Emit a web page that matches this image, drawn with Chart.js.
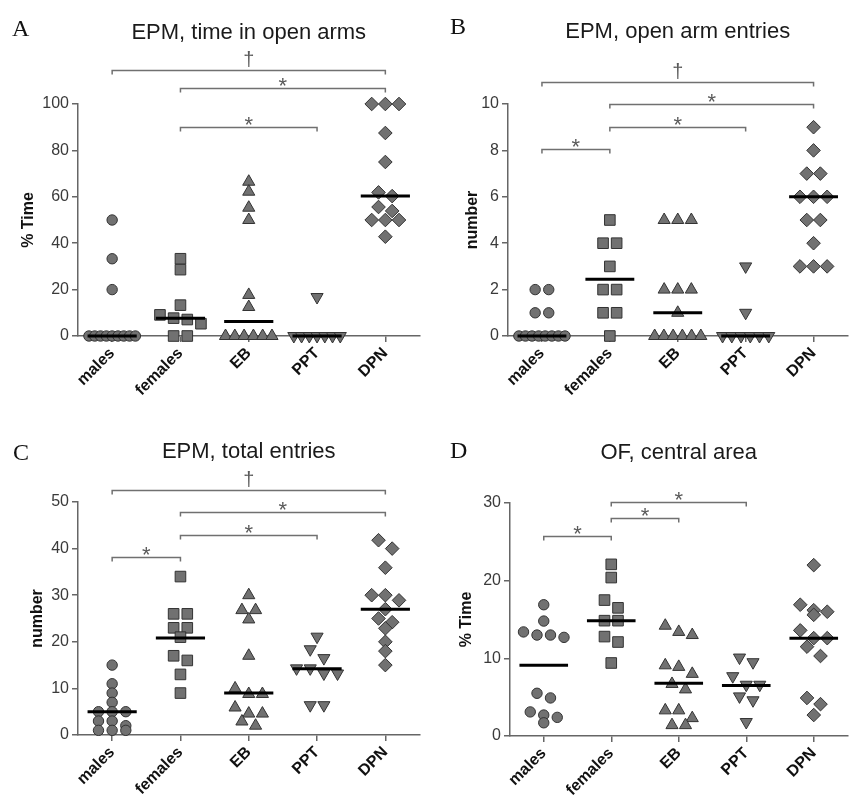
<!DOCTYPE html>
<html>
<head>
<meta charset="utf-8">
<script src="https://cdn.jsdelivr.net/npm/chart.js@4.4.1/dist/chart.umd.min.js"></script>
<style>
  body { margin: 0; background: #fff; }
  #wrap { position: relative; width: 856px; height: 806px; }
  canvas { position: absolute; }
</style>
</head>
<body>
<div id="wrap">
  <canvas id="chartA" width="428" height="400" style="left:0;top:0"></canvas>
  <canvas id="chartB" width="426" height="400" style="left:430px;top:0"></canvas>
  <canvas id="chartC" width="428" height="406" style="left:0;top:400px"></canvas>
  <canvas id="chartD" width="426" height="406" style="left:430px;top:400px"></canvas>
</div>
<script>
const groups = ['males', 'females', 'EB', 'PPT', 'DPN'];

// A - EPM, time in open arms (% time)
const openTimeMales = [50, 33.3, 20, 0, 0, 0, 0, 0, 0, 0, 0, 0];
const openTimeFemales = [33.3, 28.6, 13.3, 9.1, 7.7, 7.1, 5.3, 0, 0];
const openTimeEB = [66.5, 62.2, 55.3, 50, 17.7, 12.5, 0, 0, 0, 0, 0, 0];
const openTimePPT = [16.8, 0, 0, 0, 0, 0, 0, 0];
const openTimeDPN = [100, 100, 100, 87.5, 75, 61.9, 60.3, 55.6, 53.9, 50, 50, 50, 42.8];
const openTimeMedians = [0, 7.7, 6.25, 0, 60.3];
const openTimeBrackets = [[0, 4, 114.7, '\u2020'], [1, 4, 106.9, '*'], [1, 3, 90.1, '*']];

// B - EPM, open arm entries (number)
const openEntriesMales = [2, 2, 1, 1, 0, 0, 0, 0, 0, 0, 0, 0];
const openEntriesFemales = [5, 4, 4, 3, 2, 2, 1, 1, 0];
const openEntriesEB = [5, 5, 5, 2, 2, 2, 1, 0, 0, 0, 0, 0, 0];
const openEntriesPPT = [3, 1, 0, 0, 0, 0, 0, 0];
const openEntriesDPN = [9, 8, 7, 7, 6, 6, 6, 5, 5, 4, 3, 3, 3];
const openEntriesMedians = [0, 2.45, 1, 0, 6];
const openEntriesBrackets = [[0, 4, 10.95, '\u2020'], [1, 4, 10, '*'], [1, 3, 9, '*'], [0, 1, 8.07, '*']];

// C - EPM, total entries (number)
const totalMales = [15, 11, 9, 7, 5, 5, 5, 3, 3, 2, 1, 1, 1];
const totalFemales = [34, 26, 26, 23, 23, 21, 17, 16, 13, 9];
const totalEB = [30, 26.8, 26.8, 24.8, 17, 10, 8.8, 8.8, 5.9, 4.6, 4.6, 2.9, 2];
const totalPPT = [21.1, 18.4, 16.5, 14.3, 14.3, 13.2, 13.2, 6.4, 6.4];
const totalDPN = [41.8, 40, 35.9, 30, 30, 28.9, 27, 25, 24.2, 22.9, 20, 18, 15];
const totalMedians = [5, 20.8, 9, 14.2, 27];
const totalBrackets = [[0, 4, 52.6, '\u2020'], [1, 4, 47.9, '*'], [1, 3, 42.9, '*'], [0, 1, 38.3, '*']];

// D - OF, central area (% time)
const centralMales = [16.9, 14.8, 13.4, 13, 13, 12.7, 5.5, 4.9, 3.1, 2.7, 2.4, 1.7];
const centralFemales = [22.1, 20.4, 17.5, 16.5, 14.85, 14.85, 12.8, 12.1, 9.4];
const centralEB = [14.2, 13.4, 13, 9.1, 8.9, 8, 6.7, 6, 3.3, 3.3, 2.3, 1.4, 1.4];
const centralPPT = [10.1, 9.5, 7.7, 6.6, 6.6, 5.1, 4.6, 1.8];
const centralDPN = [22, 16.9, 16.2, 16, 15.6, 13.6, 12.6, 12.6, 11.5, 10.3, 4.9, 4.1, 2.7];
const centralMedians = [9.1, 14.85, 6.8, 6.5, 12.6];
const centralBrackets = [[1, 3, 30.1, '*'], [1, 2, 28.1, '*'], [0, 1, 25.8, '*']];

const sans = '"Liberation Sans", Arial, sans-serif';
const markerStyles = ['circle', 'rect', 'triangle', 'triangle', 'rectRot'];
const markerRotation = [0, 0, 0, 180, 0];
const markerRadius = [5.2, 7.5, 7, 7, 6.8];

// column scatter: values that sit close together are spread sideways in a row
const spreadColumn = (values, center, tol) => {
  const sorted = [...values].sort((a, b) => b - a);
  const points = [];
  let i = 0;
  while (i < sorted.length) {
    let j = i;
    while (j + 1 < sorted.length && sorted[i] - sorted[j + 1] < tol) j++;
    const n = j - i + 1;
    const gap = n > 1 ? Math.min(0.2, 0.68 / (n - 1)) : 0;
    for (let k = 0; k < n; k++) {
      points.push({x: center + (k - (n - 1) / 2) * gap, y: sorted[i + k]});
    }
    i = j + 1;
  }
  return points;
}

const panelExtras = (letter, letterPos, brackets) => ({
  id: 'panelExtras',
  afterDraw(chart) {
    const {ctx, scales: {x, y}} = chart;
    ctx.save();
    ctx.fillStyle = '#111';
    ctx.font = '24px "Liberation Serif", "Times New Roman", serif';
    ctx.textAlign = 'left';
    ctx.textBaseline = 'alphabetic';
    ctx.fillText(letter, letterPos[0], letterPos[1]);
    brackets.forEach(([from, to, level, mark]) => {
      const x1 = x.getPixelForValue(from);
      const x2 = x.getPixelForValue(to);
      const yy = Math.round(y.getPixelForValue(level)) + 0.5;
      ctx.strokeStyle = '#707070';
      ctx.lineWidth = 1.5;
      ctx.beginPath();
      ctx.moveTo(x1, yy + 4);
      ctx.lineTo(x1, yy);
      ctx.lineTo(x2, yy);
      ctx.lineTo(x2, yy + 4);
      ctx.stroke();
      ctx.fillStyle = '#5a5a5a';
      ctx.textAlign = 'center';
      if (mark === '*') {
        ctx.font = '22px ' + sans;
        ctx.fillText(mark, (x1 + x2) / 2, yy + 4);
      } else {
        ctx.font = '20px ' + sans;
        ctx.fillText(mark, (x1 + x2) / 2, yy - 5);
      }
    });
    ctx.restore();
  }
});

const generatePanel = (canvasId, p) => {
  const tol = p.yMax * 0.04;
  const scatterSets = p.series.map((values, i) => ({
    data: spreadColumn(values, i, tol),
    pointStyle: markerStyles[i],
    rotation: markerRotation[i],
    pointRadius: markerRadius[i],
    backgroundColor: '#717171',
    borderColor: '#333',
    borderWidth: 1,
    clip: false,
    order: 1
  }));
  const medianSets = p.medians.map((m, i) => ({
    data: [{x: i - 0.36, y: m}, {x: i + 0.36, y: m}],
    showLine: true,
    borderColor: '#000',
    borderWidth: 3,
    pointRadius: 0,
    clip: false,
    order: 0
  }));
  return new Chart(document.getElementById(canvasId), {
    type: 'scatter',
    data: {datasets: [...scatterSets, ...medianSets]},
    options: {
      responsive: false,
      animation: false,
      events: [],
      layout: {padding: {left: 0, right: 0, top: 0, bottom: 0}},
      scales: {
        x: {
          type: 'linear',
          min: -0.5,
          max: 4.5,
          afterBuildTicks: (scale) => { scale.ticks = groups.map((g, i) => ({value: i})); },
          afterFit: (scale) => { scale.height = p.xAxisHeight; },
          ticks: {
            callback: (v) => groups[v],
            autoSkip: false,
            minRotation: 45,
            maxRotation: 45,
            padding: 2,
            color: '#111',
            font: {family: sans, size: 16, weight: 'bold'}
          },
          grid: {drawOnChartArea: false, drawTicks: true, tickLength: 6, color: '#666', lineWidth: 1.5},
          border: {color: '#666', width: 1.5}
        },
        y: {
          min: 0,
          max: p.yMax,
          afterFit: (scale) => { scale.width = p.yAxisWidth; },
          ticks: {stepSize: p.step, padding: 3, color: '#3a3a3a', font: {family: sans, size: 16}},
          grid: {drawOnChartArea: false, drawTicks: true, tickLength: 6, color: '#666', lineWidth: 1.5},
          border: {color: '#666', width: 1.5},
          title: {
            display: true,
            text: p.yTitle,
            color: '#111',
            font: {family: sans, size: 16, weight: 'bold'},
            padding: {top: p.yTitlePad, bottom: 0}
          }
        }
      },
      plugins: {
        legend: {display: false},
        tooltip: {enabled: false},
        title: {
          display: true,
          text: p.title,
          fullSize: false,
          color: '#1a1a1a',
          font: {family: sans, size: 22, weight: 'normal'},
          padding: p.titlePad
        }
      }
    },
    plugins: [panelExtras(p.letter, p.letterPos, p.brackets)]
  });
}

generatePanel('chartA', {
  title: 'EPM, time in open arms', titlePad: {top: 19.8, bottom: 57.8},
  letter: 'A', letterPos: [12, 36],
  yTitle: '% Time', yTitlePad: 19, yMax: 100, step: 20,
  yAxisWidth: 78, xAxisHeight: 64,
  series: [openTimeMales, openTimeFemales, openTimeEB, openTimePPT, openTimeDPN],
  medians: openTimeMedians, brackets: openTimeBrackets
});

generatePanel('chartB', {
  title: 'EPM, open arm entries', titlePad: {top: 18.8, bottom: 58.8},
  letter: 'B', letterPos: [20, 34],
  yTitle: 'number', yTitlePad: 33, yMax: 10, step: 2,
  yAxisWidth: 78, xAxisHeight: 64,
  series: [openEntriesMales, openEntriesFemales, openEntriesEB, openEntriesPPT, openEntriesDPN],
  medians: openEntriesMedians, brackets: openEntriesBrackets
});

generatePanel('chartC', {
  title: 'EPM, total entries', titlePad: {top: 38.8, bottom: 36.8},
  letter: 'C', letterPos: [13, 60],
  yTitle: 'number', yTitlePad: 28, yMax: 50, step: 10,
  yAxisWidth: 78, xAxisHeight: 71,
  series: [totalMales, totalFemales, totalEB, totalPPT, totalDPN],
  medians: totalMedians, brackets: totalBrackets
});

generatePanel('chartD', {
  title: 'OF, central area', titlePad: {top: 39.8, bottom: 36.8},
  letter: 'D', letterPos: [20, 58],
  yTitle: '% Time', yTitlePad: 27, yMax: 30, step: 10,
  yAxisWidth: 80, xAxisHeight: 70,
  series: [centralMales, centralFemales, centralEB, centralPPT, centralDPN],
  medians: centralMedians, brackets: centralBrackets
});
</script>
</body>
</html>
